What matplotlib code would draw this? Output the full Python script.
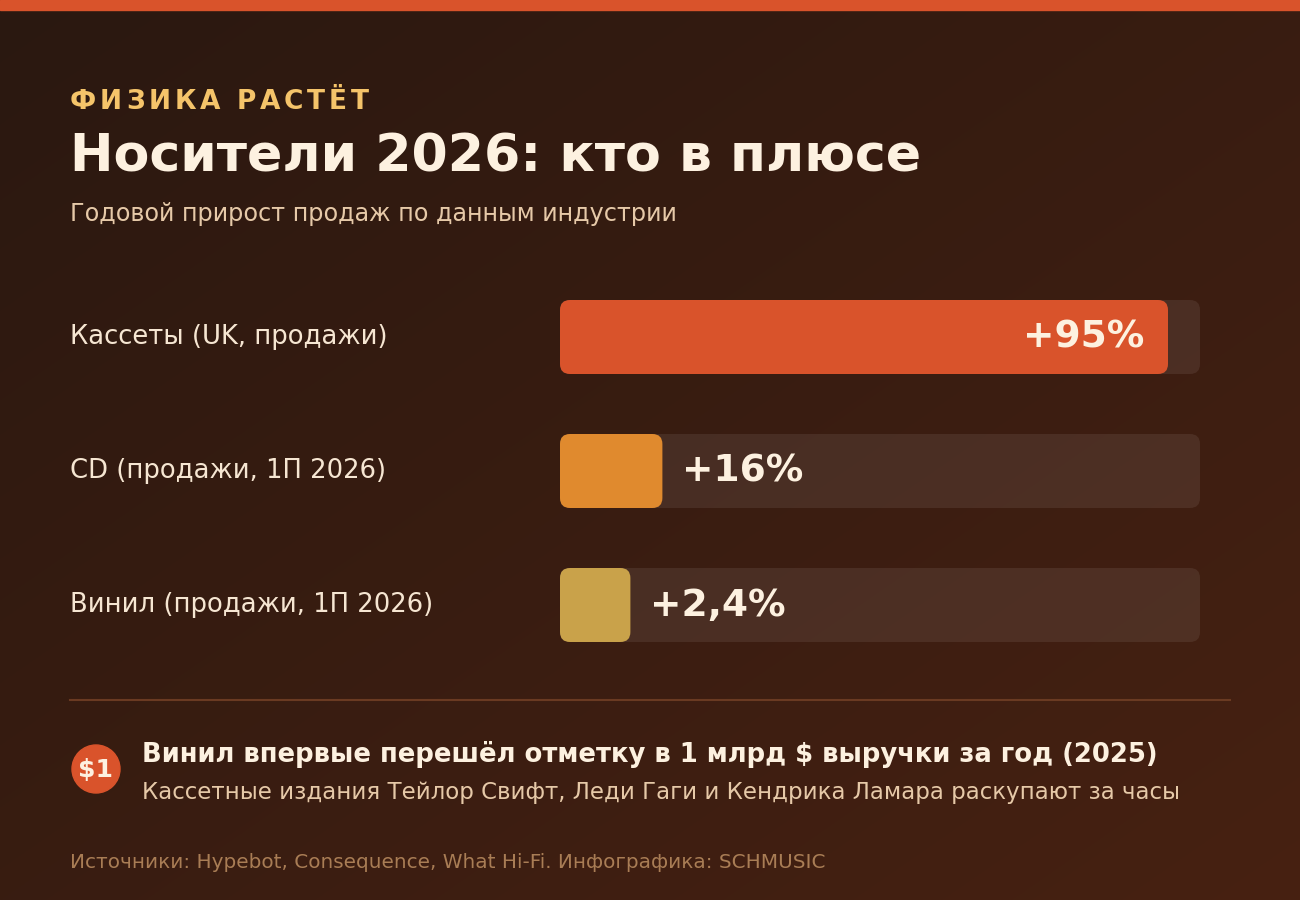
import numpy as np
import matplotlib
matplotlib.use("Agg")
import matplotlib.pyplot as plt
from matplotlib.patches import FancyBboxPatch, Circle, Rectangle

categories = ["Кассеты (UK, продажи)", "CD (продажи, 1П 2026)", "Винил (продажи, 1П 2026)"]
values = [95, 16, 2.4]
value_labels = ["+95%", "+16%", "+2,4%"]
bar_colors = ["#d9532b", "#e08a2e", "#c9a24a"]

W, H = 1300, 900
fig = plt.figure(figsize=(13, 9), dpi=100)
ax = fig.add_axes([0, 0, 1, 1])
ax.set_xlim(0, W)
ax.set_ylim(H, 0)
ax.axis("off")

# diagonal gradient background
yy, xx = np.mgrid[0:H, 0:W]
t = (xx / W + yy / H) / 2
c0 = np.array([0x2a, 0x18, 0x10]) / 255
c1 = np.array([0x47, 0x21, 0x12]) / 255
img = c0 + (c1 - c0) * t[..., None]
ax.imshow(img, extent=[0, W, H, 0], zorder=0)
ax.add_patch(Rectangle((0, 0), W, 10, color="#d9532b", zorder=1))

# kicker with letter spacing
fig.canvas.draw()
r = fig.canvas.get_renderer()
x = 70
for ch in "ФИЗИКА РАСТЁТ":
    tx = ax.text(x, 102, ch, color="#f5c46a", fontsize=19, fontweight="bold", va="center")
    w = tx.get_window_extent(r).width
    x += w + 3.8

ax.text(70, 158, "Носители 2026: кто в плюсе", color="#fdf1e0", fontsize=37.5,
        fontweight="bold", va="center")
ax.text(70, 214, "Годовой прирост продаж по данным индустрии", color="#e6c9a8",
        fontsize=17.2, va="center")

x0, track_w, bh = 560, 640, 74
tops = [300, 434, 568]
for cat, v, lab, col, top in zip(categories, values, value_labels, bar_colors, tops):
    ax.text(70, top + bh / 2, cat, color="#f6e6d2", fontsize=18.6, va="center")
    ax.add_patch(FancyBboxPatch((x0, top), track_w, bh, boxstyle="round,pad=0,rounding_size=10",
                                fc="#ffffff", alpha=0.08, ec="none", zorder=2))
    w = max(v, 11) / 100 * track_w
    ax.add_patch(FancyBboxPatch((x0, top), w, bh, boxstyle="round,pad=0,rounding_size=10",
                                fc=col, ec="none", zorder=3))
    if v > 50:
        ax.text(x0 + w - 24, top + bh / 2 + 1, lab, color="#fdf1e0", fontsize=27,
                fontweight="bold", va="center", ha="right", zorder=4)
    else:
        ax.text(x0 + w + 20, top + bh / 2 + 1, lab, color="#fdf1e0", fontsize=27,
                fontweight="bold", va="center", ha="left", zorder=4)

ax.plot([70, 1230], [700, 700], color="#6a3a22", lw=1.5, zorder=2)

ax.add_patch(Circle((96, 769), 24, color="#d9532b", zorder=3))
ax.text(96, 770, "$1", color="#fdf1e0", fontsize=18, fontweight="bold",
        ha="center", va="center", zorder=4)
ax.text(142, 755, "Винил впервые перешёл отметку в 1 млрд $ выручки за год (2025)",
        color="#fdf1e0", fontsize=18.6, fontweight="bold", va="center")
ax.text(142, 792, "Кассетные издания Тейлор Свифт, Леди Гаги и Кендрика Ламара раскупают за часы",
        color="#e6c9a8", fontsize=16.5, va="center")

ax.text(70, 863, "Источники: Hypebot, Consequence, What Hi-Fi. Инфографика: SCHMUSIC",
        color="#a97d55", fontsize=14.4, va="center")

fig.savefig("out.png", dpi=100)
